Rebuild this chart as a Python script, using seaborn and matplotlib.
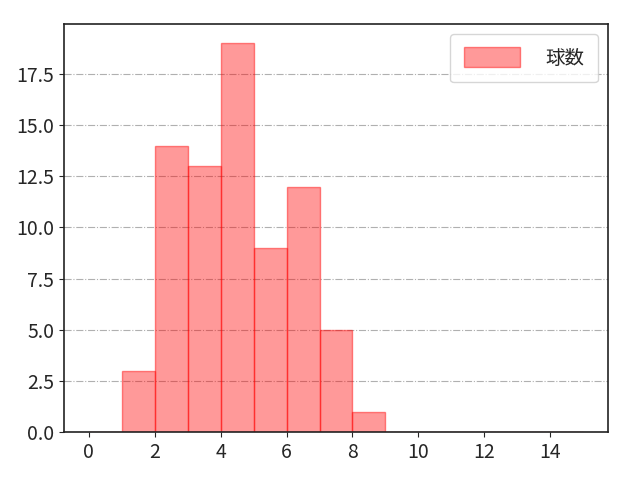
import numpy as np
import matplotlib
matplotlib.use("Agg")
import matplotlib.pyplot as plt
import seaborn as sns

# 球数ごとの度数（1球刻み）
bin_edges = list(range(0, 16))
counts = [0, 3, 14, 13, 19, 9, 12, 5, 1, 0, 0, 0, 0, 0, 0]
label = "球数"

sns.set_style("ticks")
plt.rcParams['font.family'] = ['Noto Sans CJK JP', 'DejaVu Sans']

centers = np.array(bin_edges[:-1]) + 0.5

fig = plt.figure(figsize=(6.4, 4.8), dpi=100)
ax = fig.add_axes([0.1, 0.1, 0.85, 0.85])
sns.histplot(x=centers, weights=counts, bins=bin_edges, ax=ax,
             color="red", alpha=0.4, edgecolor=(1, 0, 0, 0.45), linewidth=1,
             label=label)
ax.set_xlim(-0.75, 15.75)
ax.set_ylim(0, max(counts) * 1.05)
ax.set_xticks(range(0, 15, 2))
ax.set_ylabel("")
ax.set_xlabel("")
ax.yaxis.grid(True, linestyle="-.", color="#b0b0b0", linewidth=0.8)
ax.set_axisbelow(True)
ax.tick_params(labelsize=14)
for s in ax.spines.values():
    s.set_linewidth(1.2)
    s.set_color("#222222")
leg = ax.legend(loc="upper right", fontsize=14, handlelength=2.9,
                handleheight=1.2, handletextpad=1.3, borderpad=0.7)

fig.savefig("out.png", dpi=100)
